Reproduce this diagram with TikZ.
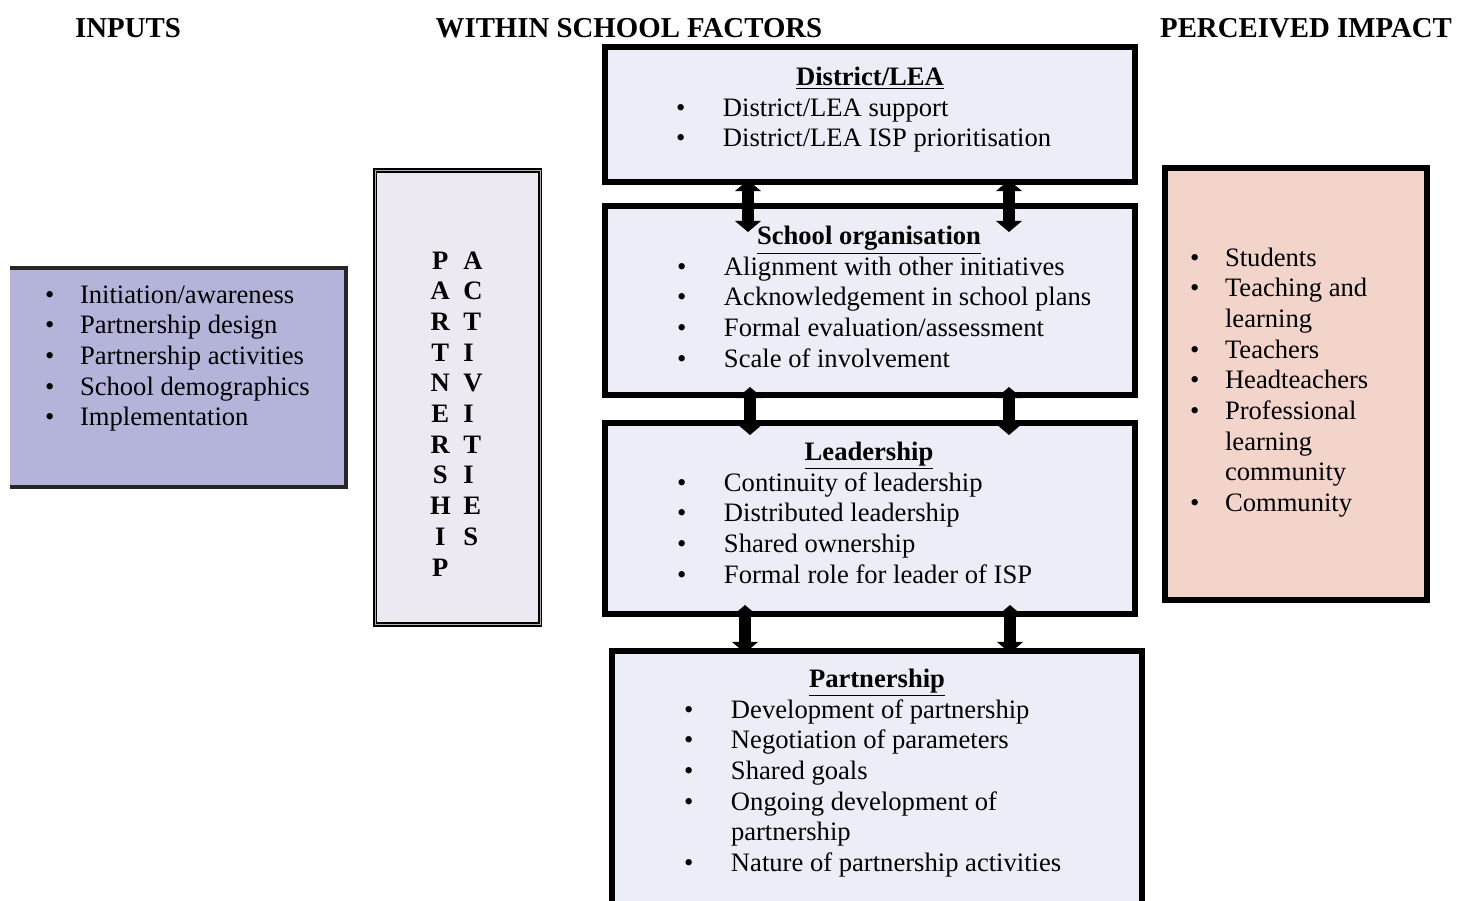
\documentclass[tikz,border=0pt]{standalone}
\usepackage{fontspec}
\setmainfont{Liberation Serif}
\usetikzlibrary{arrows.meta,fit}
\definecolor{factorfill}{RGB}{237,237,248}
\definecolor{inputfill}{RGB}{180,180,218}
\definecolor{activityfill}{RGB}{237,232,242}
\definecolor{impactfill}{RGB}{242,212,203}

\begin{document}
\begin{tikzpicture}[x=0.451pt,y=-0.451pt,
	every node/.style={inner sep=0,outer sep=0,font=\fontsize{12}{13.85}\selectfont},
	heading/.style={anchor=base,font=\fontsize{13}{15}\selectfont\bfseries},
	title/.style={anchor=base,font=\fontsize{12}{13.85}\selectfont\bfseries},
	items/.style={anchor=base west,align=left},
	factor/.style={draw=black,line width=2.3pt,fill=factorfill},
	impactbox/.style={draw=black,line width=2.3pt,fill=impactfill},
	activitybox/.style={draw=black,line width=0.9pt,double=gray!60,double distance=0.45pt,fill=activityfill},
	duo/.style={line width=5.8pt,{Triangle[width=11.5pt,length=5pt]}-{Triangle[width=11.5pt,length=5pt]}}]
	\useasboundingbox (0,0) rectangle (1473,900);

	% column headings
	\node[heading] (hin) at (128,37) {INPUTS};
	\node[heading] (hwithin) at (629,37) {WITHIN SCHOOL FACTORS};
	\node[heading] (himpact) at (1306,37) {PERCEIVED IMPACT};

	% inputs
	\node[fill=inputfill,fit={(10,268) (346,487)}] (inputs) {};
	\draw[black!85,line width=1.8pt] (inputs.north west) -- (inputs.north east) -- (inputs.south east) -- (inputs.south west);
	\node[items] (inputlist) at (45,303) {\begin{tabular}[t]{@{}p{15.8pt}@{}l@{}}
		\textbullet & Initiation/awareness\\
		\textbullet & Partnership design\\
		\textbullet & Partnership activities\\
		\textbullet & School demographics\\
		\textbullet & Implementation
	\end{tabular}};

	% partnership activities
	\node[activitybox,fit={(375,170) (540,624)}] (activities) {};
	\node[items,font=\fontsize{12}{13.85}\selectfont\bfseries] (letters) at (430,269) {\begin{tabular}[t]{@{}c@{\hspace{5.7pt}}l@{}}
		P & A\\ A & C\\ R & T\\ T & I\\ N & V\\ E & I\\ R & T\\ S & I\\ H & E\\ I & S\\ P &
	\end{tabular}};

	% within school factors
	\node[factor,fit={(605,47) (1135,182)}] (district) {};
	\node[title] (districttitle) at (870,85) {\underline{District/LEA}};
	\node[items] (districtlist) at (676,116) {\begin{tabular}[t]{@{}p{21.2pt}@{}l@{}}
		\textbullet & District/LEA support\\
		\textbullet & District/LEA ISP prioritisation
	\end{tabular}};

	\node[factor,fit={(605,206) (1135,395)}] (school) {};
	\node[title] (schooltitle) at (869,244) {\underline{School organisation}};
	\node[items] (schoollist) at (677,275) {\begin{tabular}[t]{@{}p{21.2pt}@{}l@{}}
		\textbullet & Alignment with other initiatives\\
		\textbullet & Acknowledgement in school plans\\
		\textbullet & Formal evaluation/assessment\\
		\textbullet & Scale of involvement
	\end{tabular}};

	\node[factor,fit={(605,423) (1135,614)}] (leader) {};
	\node[title] (leadertitle) at (869,460) {\underline{Leadership}};
	\node[items] (leaderlist) at (677,491) {\begin{tabular}[t]{@{}p{21.2pt}@{}l@{}}
		\textbullet & Continuity of leadership\\
		\textbullet & Distributed leadership\\
		\textbullet & Shared ownership\\
		\textbullet & Formal role for leader of ISP
	\end{tabular}};

	\node[factor,fit={(612,651) (1142,935)}] (partner) {};
	\node[title] (partnertitle) at (877,687) {\underline{Partnership}};
	\node[items] (partnerlist) at (684,718) {\begin{tabular}[t]{@{}p{21.2pt}@{}l@{}}
		\textbullet & Development of partnership\\
		\textbullet & Negotiation of parameters\\
		\textbullet & Shared goals\\
		\textbullet & Ongoing development of\\
		 & partnership\\
		\textbullet & Nature of partnership activities
	\end{tabular}};

	% perceived impact
	\node[impactbox,fit={(1165,168) (1427,600)}] (impact) {};
	\node[items] (impactlist) at (1190,266) {\begin{tabular}[t]{@{}p{15.8pt}@{}l@{}}
		\textbullet & Students\\
		\textbullet & Teaching and\\
		 & learning\\
		\textbullet & Teachers\\
		\textbullet & Headteachers\\
		\textbullet & Professional\\
		 & learning\\
		 & community\\
		\textbullet & Community
	\end{tabular}};

	% two-way links between the factor boxes
	\draw[duo] ([shift={(143,-2)}]district.south west) -- ([shift={(143,26)}]school.north west);
	\draw[duo] ([shift={(404,-2)}]district.south west) -- ([shift={(404,26)}]school.north west);
	\draw[duo] ([shift={(145,-8)}]school.south west) -- ([shift={(145,12)}]leader.north west);
	\draw[duo] ([shift={(404,-8)}]school.south west) -- ([shift={(404,12)}]leader.north west);
	\draw[duo] ([shift={(140,-9)}]leader.south west) -- ([shift={(133,2)}]partner.north west);
	\draw[duo] ([shift={(405,-9)}]leader.south west) -- ([shift={(398,2)}]partner.north west);
\end{tikzpicture}
\end{document}
